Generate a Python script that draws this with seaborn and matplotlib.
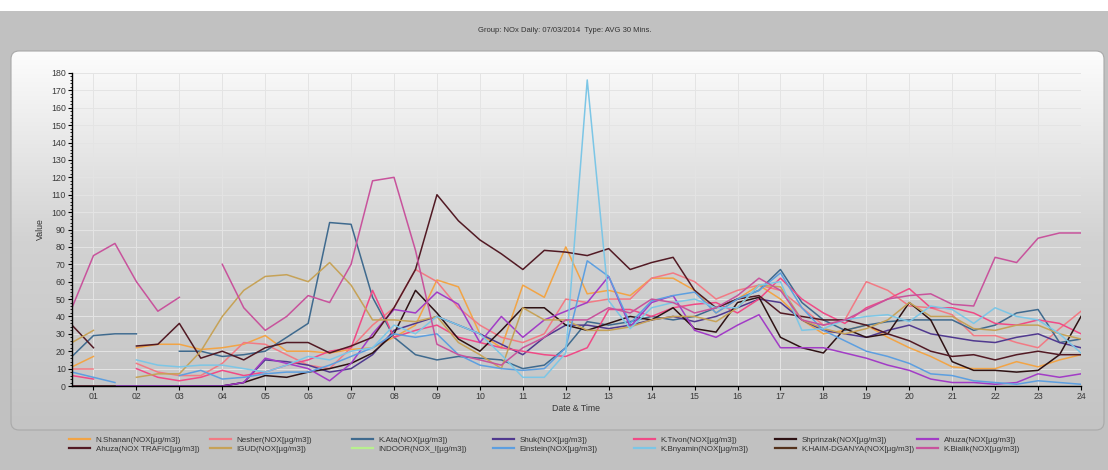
import numpy as np
import pandas as pd
import matplotlib
matplotlib.use("Agg")
import matplotlib.pyplot as plt
import seaborn as sns
from matplotlib.patches import FancyBboxPatch, Rectangle
from matplotlib.lines import Line2D
from matplotlib.ticker import MultipleLocator
from matplotlib.colors import LinearSegmentedColormap
from matplotlib.transforms import IdentityTransform

plt.rcParams["font.family"] = ["Liberation Sans", "DejaVu Sans"]

nan = np.nan
# half-hourly readings, 00:30 .. 24:00
times = np.arange(1, 49) * 0.5

n_shanan = [11, 17, nan, 22, 24, 24, 21, 22, 24, 29,
            20, 20, 19, 21, 22, 28, 35, 61, 57, 30,
            22, 58, 51, 80, 53, 55, 52, 62, 62, 55,
            42, 50, 58, 50, 38, 30, 32, 35, 28, 22,
            17, 11, 10, 10, 14, 11, 15, 18]
nesher = [10, 10, nan, 13, 8, 6, 6, 13, 25, 24,
          18, 12, 10, 22, 35, 45, 67, 60, 45, 35,
          28, 25, 30, 50, 48, 50, 50, 62, 65, 60,
          50, 55, 58, 55, 45, 35, 38, 60, 55, 46,
          45, 41, 29, 29, 25, 22, 33, 43]
k_ata = [17, 29, 30, 30, nan, 20, 20, 17, 18, 20,
         28, 36, 94, 93, 51, 28, 18, 15, 17, 16,
         15, 10, 12, 22, 37, 35, 37, 40, 38, 40,
         45, 50, 55, 67, 48, 38, 32, 35, 37, 38,
         38, 38, 32, 35, 42, 44, 25, 27]
shuk = [0, 0, 0, 0, 0, 0, 0, 0, 2, 15,
        14, 12, 8, 10, 18, 32, 36, 40, 35, 30,
        24, 18, 28, 35, 35, 33, 35, 38, 40, 37,
        40, 45, 50, 48, 38, 32, 30, 28, 32, 35,
        30, 28, 26, 25, 28, 30, 25, 22]
k_tivon = [6, 4, nan, 10, 5, 3, 5, 9, 6, 8,
           12, 15, 20, 22, 55, 28, 32, 35, 28, 25,
           22, 20, 18, 17, 22, 44, 44, 40, 45, 47,
           48, 42, 50, 62, 50, 42, 36, 45, 50, 56,
           45, 45, 42, 36, 35, 38, 36, 30]
shprinzak = [nan, nan, nan, nan, nan, nan, nan, 0, 2, 6,
             5, 8, 10, 13, 19, 30, 55, 42, 27, 20,
             32, 45, 45, 35, 32, 36, 40, 38, 45, 33,
             31, 48, 51, 28, 22, 19, 33, 28, 30, 48,
             38, 14, 9, 9, 8, 9, 18, 40]
ahuza = [0, 0, 0, 0, 0, 0, 0, 0, 2, 16,
         13, 10, 3, 13, 30, 44, 42, 54, 47, 25,
         40, 28, 38, 43, 48, 63, 34, 48, 52, 32,
         28, 35, 41, 22, 22, 22, 19, 16, 12, 9,
         4, 2, 2, 1, 2, 7, 5, 7]
ahuza_trafic = [35, 22, nan, 23, 24, 36, 16, 20, 15, 22,
                25, 25, 19, 23, 28, 45, 67, 110, 95, 84,
                76, 67, 78, 77, 75, 79, 67, 71, 74, 55,
                45, 50, 52, 42, 40, 38, 38, 35, 30, 26,
                20, 17, 18, 15, 18, 20, 18, 18]
igud = [25, 32, nan, 5, 7, 7, 20, 40, 55, 63,
        64, 60, 71, 58, 38, 38, 37, 40, 25, 18,
        10, 45, 38, 38, 32, 32, 34, 38, 40, 40,
        37, 45, 58, 57, 38, 33, 30, 33, 38, 48,
        40, 40, 33, 32, 35, 35, 30, 27]
indoor = [nan] * 48
einstein = [8, 5, 2, nan, nan, 6, 9, 4, 5, 7,
            8, 8, 12, 17, 22, 30, 28, 30, 18, 12,
            10, 9, 10, 22, 72, 63, 36, 49, 52, 54,
            42, 50, 55, 65, 45, 32, 26, 20, 17, 13,
            7, 6, 3, 2, 1, 3, 2, 1]
k_bnyamin = [nan, nan, nan, 15, 12, 11, 12, 12, 10, 8,
             12, 17, 15, 20, 22, 35, 30, 40, 35, 30,
             18, 5, 5, 19, 176, 49, 33, 45, 48, 50,
             45, 45, 58, 60, 32, 33, 38, 40, 41, 37,
             46, 44, 36, 45, 40, 38, 30, 19]
k_haim = [0, 0, 0] + [nan] * 45
k_bialik = [45, 75, 82, 60, 43, 51, nan, 70, 45, 32,
            40, 52, 48, 70, 118, 120, 78, 24, 18, 15,
            12, 22, 28, 38, 38, 45, 42, 50, 48, 42,
            45, 52, 62, 55, 38, 35, 38, 44, 50, 52,
            53, 47, 46, 74, 71, 85, 88, 88]

# legend order (row 1 then row 2, seven columns)
row1 = ["N.Shanan(NOX[µg/m3])", "Nesher(NOX[µg/m3])", "K.Ata(NOX[µg/m3])", "Shuk(NOX[µg/m3])",
        "K.Tivon(NOX[µg/m3])", "Shprinzak(NOX[µg/m3])", "Ahuza(NOX[µg/m3])"]
row2 = ["Ahuza(NOX TRAFIC[µg/m3])", "IGUD(NOX[µg/m3])", "INDOOR(NOX_I[µg/m3])", "Einstein(NOX[µg/m3])",
        "K.Bnyamin(NOX[µg/m3])", "K.HAIM-DGANYA(NOX[µg/m3])", "K.Bialik(NOX[µg/m3])"]
row1_vals = [n_shanan, nesher, k_ata, shuk, k_tivon, shprinzak, ahuza]
row2_vals = [ahuza_trafic, igud, indoor, einstein, k_bnyamin, k_haim, k_bialik]
row1_colors = ["#f2a445", "#f27a84", "#3f6a8e", "#50398f", "#f04a86", "#2e1214", "#a23cc6"]
row2_colors = ["#521a24", "#c6a257", "#b8f08e", "#5d9fe0", "#7cc6e6", "#54321c", "#c8539c"]

names = row1 + row2
palette = dict(zip(names, row1_colors + row2_colors))
series = dict(zip(names, row1_vals + row2_vals))

# long table, one segment per run without gaps
rows = []
for name, vals in series.items():
    seg = 0
    gap = True
    for t, v in zip(times, vals):
        if np.isnan(v):
            gap = True
            continue
        if gap:
            seg += 1
            gap = False
        rows.append((name, f"{name}#{seg}", t, v))
df = pd.DataFrame(rows, columns=["station", "segment", "time", "value"])

W, H = 1108, 470
def fx(px):
    return px / W
def fy(py):
    return 1 - py / H

fig = plt.figure(figsize=(W / 100, H / 100), dpi=100, facecolor="#c1c1c1")
fig.add_artist(Rectangle((0, fy(11)), 1, 11 / H, transform=fig.transFigure,
                         facecolor="white", edgecolor="none", zorder=0))
fig.text(fx(565), fy(30), "Group: NOx Daily: 07/03/2014  Type: AVG 30 Mins.",
         ha="center", va="center", fontsize=5.5, color="#333333",
         family=["Liberation Sans Narrow", "Liberation Sans", "DejaVu Sans"])

# rounded panel with vertical gradient
bg = fig.add_axes([fx(11), fy(430), fx(1104) - fx(11), fy(51) - fy(430)])
bg.set_xlim(0, 1)
bg.set_ylim(0, 1)
bg.axis("off")
cmap = LinearSegmentedColormap.from_list("panel", ["#c4c4c4", "#d2d2d2", "#fdfdfd"])
grad = np.linspace(1, 0, 256).reshape(-1, 1)
im = bg.imshow(grad, aspect="auto", extent=[0, 1, 0, 1], cmap=cmap, vmin=0, vmax=1)
box = FancyBboxPatch((11, H - 430), 1093, 379, boxstyle="round,pad=0,rounding_size=8",
                     transform=IdentityTransform(), facecolor="none", edgecolor="#a9a9a9", lw=0.8)
im.set_clip_path(box)
fig.add_artist(box)

ax = fig.add_axes([fx(72), fy(386), fx(1081) - fx(72), fy(73) - fy(386)])
ax.set_facecolor("none")

sns.lineplot(data=df, x="time", y="value", hue="station", units="segment", estimator=None,
             hue_order=[n for n in names if n in set(df["station"])], palette=palette,
             legend=False, lw=1.1, ax=ax)

ax.set_xlim(0.5, 24)
ax.set_ylim(0, 180)
ax.set_xticks(range(1, 25))
ax.set_xticklabels([f"{h:02d}" for h in range(1, 25)])
ax.yaxis.set_major_locator(MultipleLocator(10))
ax.yaxis.set_minor_locator(MultipleLocator(2))
ax.grid(True, which="major", color="#e4e4e4", lw=0.7)
ax.set_axisbelow(True)
for s in ["top", "right"]:
    ax.spines[s].set_visible(False)
for s in ["left", "bottom"]:
    ax.spines[s].set_color("black")
    ax.spines[s].set_linewidth(1.0)
ax.tick_params(axis="both", which="major", length=3, width=0.8, labelsize=6.3,
               labelcolor="#3a3a3a", pad=1.5)
ax.tick_params(axis="y", which="minor", length=1.8, width=0.6)
ax.set_xlabel("Date & Time", fontsize=6.3, color="#333333", labelpad=2)
ax.set_ylabel("Value", fontsize=6.3, color="#333333", labelpad=4)

# legend: seven columns of two entries
col_x = [69, 210, 352, 493, 634, 775, 917]
for c in range(7):
    handles = [Line2D([], [], color=palette[row1[c]], lw=1.6),
               Line2D([], [], color=palette[row2[c]], lw=1.6)]
    fig.legend(handles, [row1[c], row2[c]], loc="upper left",
               bbox_to_anchor=(fx(col_x[c]), fy(436)), frameon=False,
               fontsize=5.8, handlelength=2.6, handletextpad=0.7,
               labelspacing=0.25, borderpad=0, borderaxespad=0,
               labelcolor="#333333")

fig.savefig("out.png", dpi=100, facecolor=fig.get_facecolor())
